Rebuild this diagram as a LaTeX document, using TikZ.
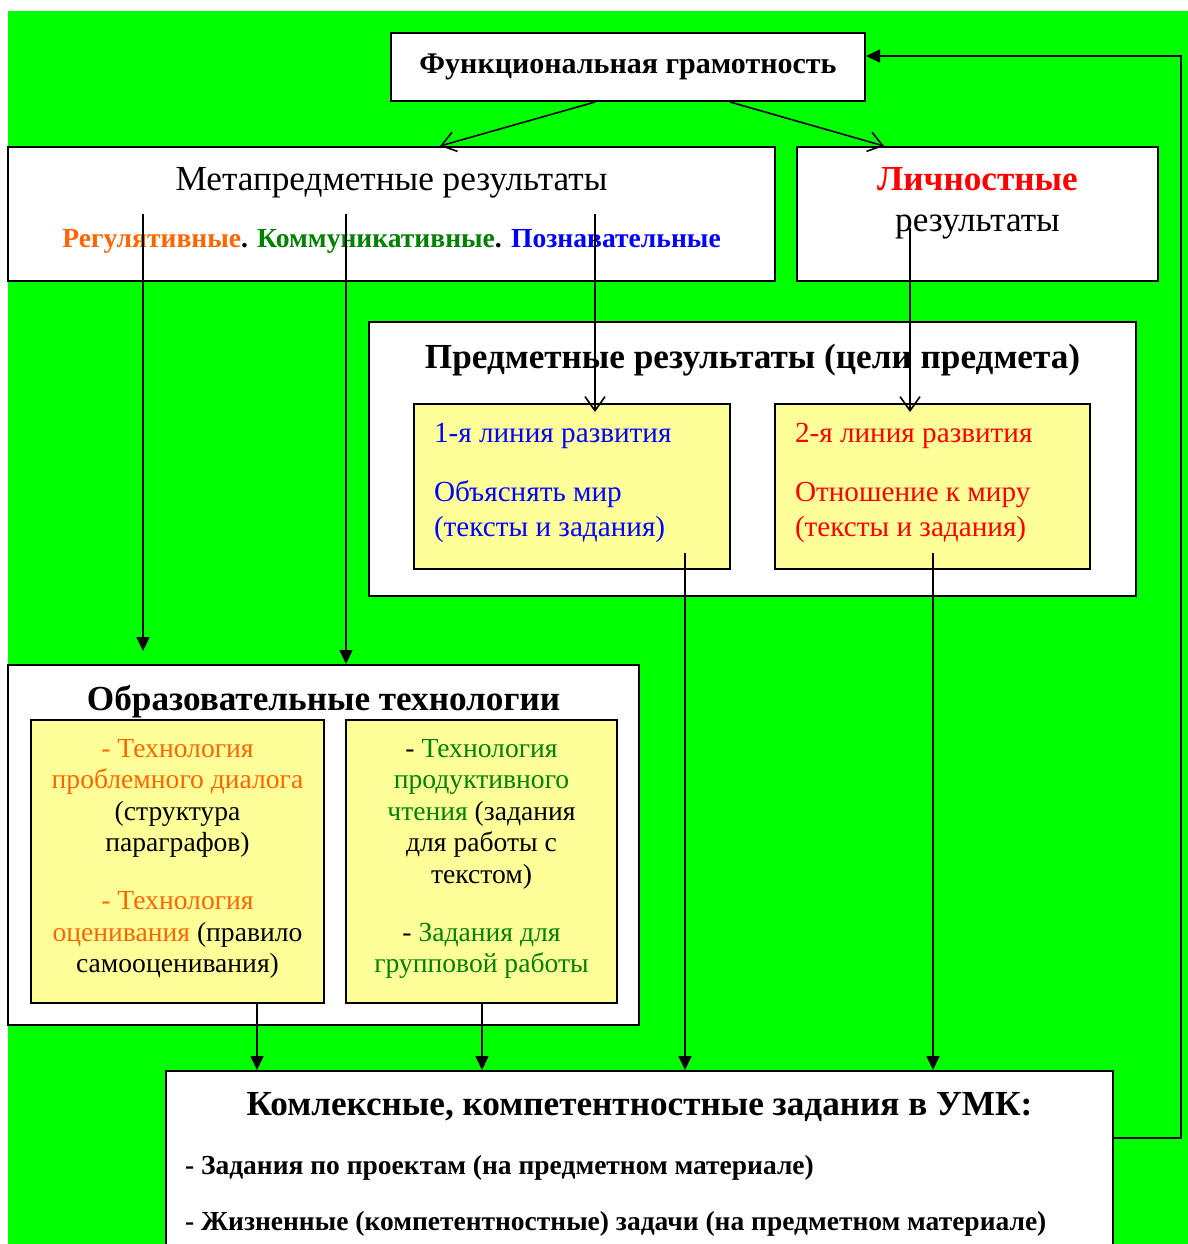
\documentclass[tikz,border=0pt]{standalone}
\usepackage{fontspec}
\setmainfont{Liberation Serif}
\usepackage{tikz}
\usetikzlibrary{arrows.meta}

\definecolor{bggreen}{HTML}{00FF00}
\definecolor{paleyellow}{HTML}{FFFF99}
\definecolor{regorange}{HTML}{FF6600}
\definecolor{komgreen}{HTML}{008000}

% top aligned text of a box: height, width, content
\newcommand{\topcell}[3]{\parbox[c][#1][t]{#2}{#3}}

\begin{document}
\begin{tikzpicture}[
            x=0.5pt, y=-0.5pt, % pixel grid of the page
            outer/.style={draw, fill=white, line width=1pt, inner sep=0pt},
            line/.style={draw, fill=paleyellow, line width=1pt, inner sep=0pt},
            techbox/.style={draw, fill=paleyellow, line width=1pt, inner sep=0pt},
            arr/.style={-{Triangle[length=7pt,width=6.5pt]}, line width=0.8pt},
            barb/.style={-{Straight Barb[length=7pt,width=10pt]}, line width=0.8pt}
            ]
            \clip (0,0) rectangle (1188,1244);
            \fill[white] (0,0) rectangle (1188,1244);
            \fill[bggreen] (8,11) rectangle (1188,1244);

            \node[outer, minimum width=237pt, minimum height=34pt,
              font=\fontsize{15}{18}\selectfont\bfseries] (top) at (628,67)
              {Функциональная грамотность};

            \node[outer] (meta) at (391.5,214) {\topcell{67pt}{383.5pt}{\centering
              \fontsize{17.6}{28.7}\selectfont\vspace*{10pt}
              Метапредметные результаты\\
              {\fontsize{13.8}{16}\selectfont\bfseries \textcolor{regorange}{Регулятивные}.
              \textcolor{komgreen}{Коммуникативные}. \textcolor{blue}{Познавательные}}\par}};
            \node[outer] (pers) at (977.5,214) {\topcell{67pt}{180.5pt}{\centering
              \fontsize{17.6}{20.5}\selectfont\vspace*{10pt}
              \textcolor{red}{\bfseries Личностные}\\ результаты\par}};

            \node[outer] (subj) at (752.5,459) {\topcell{137pt}{383.5pt}{\centering
              \fontsize{17.6}{20}\selectfont\bfseries\vspace*{11.2pt}
              Предметные результаты (цели предмета)\par}};
            \node[line] (dev1) at (572,486.5) {\topcell{82.5pt}{158pt}{\raggedright
              \leftskip=10pt\fontsize{14.6}{17.5}\selectfont\color{blue}\vspace*{9.7pt}
              1-я линия развития\\[12pt] Объяснять мир\\ (тексты и задания)\par}};
            \node[line] (dev2) at (932.5,486.5) {\topcell{82.5pt}{157.5pt}{\raggedright
              \leftskip=10pt\fontsize{14.6}{17.5}\selectfont\color{red}\vspace*{9.7pt}
              2-я линия развития\\[12pt] Отношение к миру\\ (тексты и задания)\par}};

            \node[outer] (tech) at (323.5,845) {\topcell{180pt}{315.5pt}{\centering
              \fontsize{17.6}{20}\selectfont\bfseries\vspace*{10pt}
              Образовательные технологии\par}};
            \node[techbox] (dialog) at (177.5,861.5) {\topcell{141.5pt}{146.5pt}{\centering
              \fontsize{13.8}{15.75}\selectfont\vspace*{9.7pt}
              \textcolor{regorange}{- Технология}\\ \textcolor{regorange}{проблемного диалога}\\
              (структура\\ параграфов)\\[13.25pt] \textcolor{regorange}{- Технология}\\
              \textcolor{regorange}{оценивания} (правило\\ самооценивания)\par}};
            \node[techbox] (reading) at (481.5,861.5) {\topcell{141.5pt}{135.5pt}{\centering
              \fontsize{13.8}{15.75}\selectfont\vspace*{9.7pt}
              - \textcolor{komgreen}{Технология}\\ \textcolor{komgreen}{продуктивного}\\
              \textcolor{komgreen}{чтения} (задания\\ для работы с\\ текстом)\\[13.25pt]
              - \textcolor{komgreen}{Задания для}\\ \textcolor{komgreen}{групповой работы}\par}};

            \node[outer] (tasks) at (639.5,1161) {\topcell{90pt}{473.5pt}{%
              \fontsize{13.75}{28}\selectfont\bfseries\vspace*{10.5pt}
              {\centering\fontsize{17.6}{20}\selectfont
              Комлексные, компетентностные задания в УМК:\par}
              \vspace{1.65pt}
              \hspace*{9.5pt}- Задания по проектам (на предметном материале)\par
              \hspace*{9.5pt}- Жизненные (компетентностные) задачи (на предметном материале)\par}};

            \coordinate (loop) at (1181,56);

            \draw[barb] (top.south -| 595,0) -- (meta.north -| 440,0);
            \draw[barb] (top.south -| 730,0) -- (pers.north -| 884,0);
            \draw[arr, shorten >=6.5pt] (meta.center -| 143,0) -- (tech.north -| 143,0);
            \draw[arr] (meta.center -| 346,0) -- (tech.north -| 346,0);
            \draw[barb] (meta.center -| 595,0) -- ([yshift=-4.5pt]dev1.north -| 595,0);
            \draw[barb] ([yshift=-7pt]pers.center -| 910,0) -- ([yshift=-4.5pt]dev2.north -| 910,0);
            \draw[arr] ([yshift=8.5pt]dev1.south -| 685,0) -- (tasks.north -| 685,0);
            \draw[arr] ([yshift=8.5pt]dev2.south -| 933,0) -- (tasks.north -| 933,0);
            \draw[arr] (dialog.south -| 257,0) -- (tasks.north -| 257,0);
            \draw[arr] (reading.south -| 482,0) -- (tasks.north -| 482,0);
            \draw[arr] (tasks.east |- 0,1138) -| (loop) -- (top.east |- loop);
        \end{tikzpicture}
\end{document}
